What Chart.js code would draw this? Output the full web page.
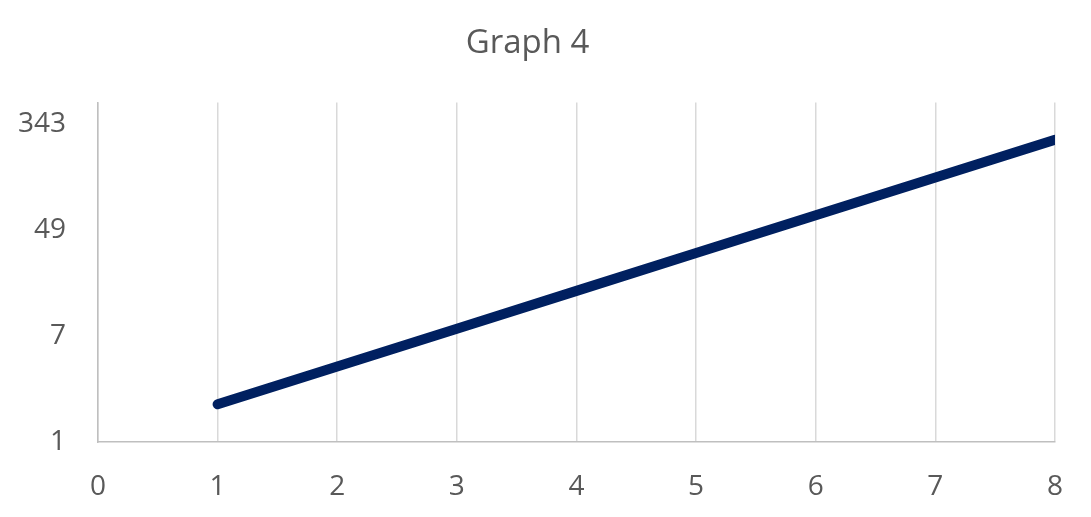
<!DOCTYPE html>
<html>
<head>
<meta charset="utf-8">
<script src="https://cdn.jsdelivr.net/npm/chart.js@4"></script>
<style>
  html, body { margin: 0; padding: 0; background: #fff; }
  #wrap { width: 1091px; height: 517px; }
</style>
</head>
<body>
<div id="wrap"><canvas id="graph4"></canvas></div>
<script>
const xValues = [1, 2, 3, 4, 5, 6, 7, 8];
const yValues = [2, 4, 8, 16, 32, 64, 128, 256];
const xTicks = [0, 1, 2, 3, 4, 5, 6, 7, 8];
const yTicks = [1, 7, 49, 343];

const textColor = '#595959';
const fontFamily = '"Open Sans", "Liberation Sans", sans-serif';

const points = xValues.map((x, i) => ({ x: x, y: yValues[i] }));

new Chart(document.getElementById('graph4'), {
    type: 'line',
    data: {
        datasets: [{
            label: 'Graph 4',
            data: points,
            borderColor: '#002060',
            borderWidth: 10,
            borderCapStyle: 'round',
            borderJoinStyle: 'round',
            pointRadius: 0,
            tension: 0,
            clip: 0
        }]
    },
    options: {
        responsive: true,
        maintainAspectRatio: false,
        animation: false,
        layout: { padding: { left: 0, right: 36, top: 0, bottom: 0 } },
        plugins: {
            legend: { display: false },
            tooltip: { enabled: false },
            title: {
                display: true,
                text: 'Graph 4',
                color: textColor,
                font: { family: fontFamily, size: 33, weight: 'normal' },
                padding: { top: 24, bottom: 39 }
            }
        },
        scales: {
            x: {
                type: 'linear',
                min: 0,
                max: 8,
                afterBuildTicks: scale => { scale.ticks = xTicks.map(v => ({ value: v })); },
                afterFit: scale => { scale.height = 75; },
                ticks: {
                    color: textColor,
                    font: { family: fontFamily, size: 28 },
                    padding: 28
                },
                grid: { color: '#d9d9d9', lineWidth: 1.5, drawTicks: false },
                border: { color: '#bfbfbf', width: 1.5 }
            },
            y: {
                type: 'logarithmic',
                min: 1,
                max: 506,
                afterBuildTicks: scale => { scale.ticks = yTicks.map(v => ({ value: v })); },
                afterFit: scale => { scale.width = 98; },
                ticks: {
                    color: textColor,
                    font: { family: fontFamily, size: 28 },
                    padding: 32,
                    callback: v => String(v)
                },
                grid: { display: false, drawTicks: false },
                border: { color: '#bfbfbf', width: 1.5 }
            }
        }
    }
});
</script>
</body>
</html>
